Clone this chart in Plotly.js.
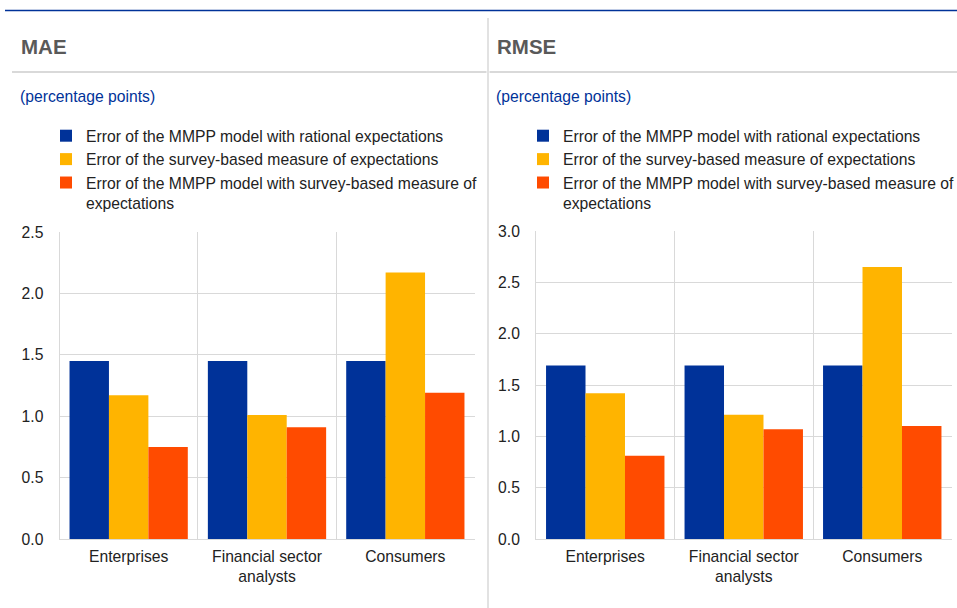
<!DOCTYPE html>
<html>
<head>
<meta charset="utf-8">
<script src="https://cdn.plot.ly/plotly-3.0.1.min.js"></script>
<style>html,body{margin:0;padding:0;background:#fff;}#chart{width:957px;height:608px;}</style>
</head>
<body>
<div id="chart"></div>
<script>
const categories = ['Enterprises', 'Financial sector analysts', 'Consumers'];
const categoryLabels = ['Enterprises', 'Financial sector<br>analysts', 'Consumers'];
const seriesNames = [
  'Error of the MMPP model with rational expectations',
  'Error of the survey-based measure of expectations',
  'Error of the MMPP model with survey-based measure of<br>expectations'
];
const maeRational = [1.45, 1.45, 1.45];
const maeSurvey = [1.17, 1.01, 2.17];
const maeSurveyModel = [0.75, 0.91, 1.19];
const rmseRational = [1.69, 1.69, 1.69];
const rmseSurvey = [1.42, 1.21, 2.65];
const rmseSurveyModel = [0.81, 1.07, 1.10];
const panelTitles = ['MAE', 'RMSE'];
const unitLabel = '(percentage points)';

const colors = ['#003299', '#ffb400', '#ff4b00'];
const W = 957, H = 608;
const px = v => v / W;
const py = v => 1 - v / H;
const FONT = 'Arial, "Liberation Sans", sans-serif';
const FS = 15.7;

const leftSeries = [maeRational, maeSurvey, maeSurveyModel];
const rightSeries = [rmseRational, rmseSurvey, rmseSurveyModel];
const traces = [];
leftSeries.forEach((vals, i) => traces.push({
  type: 'bar', x: categories, y: vals, name: seriesNames[i],
  marker: {color: colors[i]}, xaxis: 'x', yaxis: 'y', legend: 'legend',
  hoverinfo: 'y'
}));
rightSeries.forEach((vals, i) => traces.push({
  type: 'bar', x: categories, y: vals, name: seriesNames[i],
  marker: {color: colors[i]}, xaxis: 'x2', yaxis: 'y2', legend: 'legend2',
  hoverinfo: 'y'
}));

const grid = '#d9d9d9';
function xax(domain, anchor) {
  return {
    domain: domain, anchor: anchor, type: 'category',
    tickvals: categories, ticktext: categoryLabels,
    tickson: 'boundaries', showgrid: true, gridcolor: grid, gridwidth: 1,
    showline: true, linecolor: grid, linewidth: 1, ticks: '',
    ticklabelstandoff: 3, automargin: false,
    tickfont: {family: FONT, size: FS, color: '#222'}, fixedrange: true
  };
}
function yax(domain, anchor, range, dtick) {
  return {
    domain: domain, anchor: anchor, range: range, dtick: dtick, tickformat: '.1f',
    showgrid: true, gridcolor: grid, gridwidth: 1, zeroline: false,
    showline: true, linecolor: grid, linewidth: 1, ticks: '',
    ticklabelstandoff: 12, automargin: false,
    tickfont: {family: FONT, size: FS, color: '#222'}, fixedrange: true
  };
}
function legendAt(x) {
  return {
    x: x, xanchor: 'left', y: py(119), yanchor: 'top',
    font: {family: FONT, size: FS, color: '#222'},
    bgcolor: 'rgba(0,0,0,0)', tracegroupgap: 0, valign: 'top',
    traceorder: 'normal'
  };
}

const layout = {
  width: W, height: H,
  margin: {l: 0, r: 0, t: 0, b: 0, autoexpand: false},
  paper_bgcolor: '#fff', plot_bgcolor: '#fff',
  barmode: 'group', bargap: 0.145, bargroupgap: 0,
  showlegend: true,
  font: {family: FONT},
  xaxis: xax([px(59.5), px(474.5)], 'y'),
  yaxis: yax([1 - 539/H, 1 - 232/H], 'x', [0, 2.5], 0.5),
  xaxis2: xax([px(536), px(951.5)], 'y2'),
  yaxis2: yax([1 - 539/H, 1 - 231/H], 'x2', [0, 3.0], 0.5),
  legend: legendAt(px(46)),
  legend2: legendAt(px(523)),
  shapes: [
    {type: 'line', xref: 'paper', yref: 'paper', x0: px(5), x1: 1, y0: py(10.5), y1: py(10.5), line: {color: '#003299', width: 1.5}},
    {type: 'line', xref: 'paper', yref: 'paper', x0: px(488), x1: px(488), y0: py(18), y1: 0, line: {color: grid, width: 1.5}},
    {type: 'line', xref: 'paper', yref: 'paper', x0: px(12), x1: px(486.5), y0: py(72), y1: py(72), line: {color: grid, width: 2}},
    {type: 'line', xref: 'paper', yref: 'paper', x0: px(489.5), x1: 1, y0: py(72), y1: py(72), line: {color: grid, width: 2}}
  ],
  annotations: [
    {xref: 'paper', yref: 'paper', x: px(19), y: py(47), xanchor: 'left', yanchor: 'middle', showarrow: false,
     text: '<b>' + panelTitles[0] + '</b>', font: {family: FONT, size: 20.5, color: '#595959'}},
    {xref: 'paper', yref: 'paper', x: px(495), y: py(47), xanchor: 'left', yanchor: 'middle', showarrow: false,
     text: '<b>' + panelTitles[1] + '</b>', font: {family: FONT, size: 20.5, color: '#595959'}},
    {xref: 'paper', yref: 'paper', x: px(18), y: py(97), xanchor: 'left', yanchor: 'middle', showarrow: false,
     text: unitLabel, font: {family: FONT, size: FS, color: '#003299'}},
    {xref: 'paper', yref: 'paper', x: px(494), y: py(97), xanchor: 'left', yanchor: 'middle', showarrow: false,
     text: unitLabel, font: {family: FONT, size: FS, color: '#003299'}}
  ]
};

Plotly.newPlot('chart', traces, layout, {displayModeBar: false, staticPlot: true});
</script>
</body>
</html>
